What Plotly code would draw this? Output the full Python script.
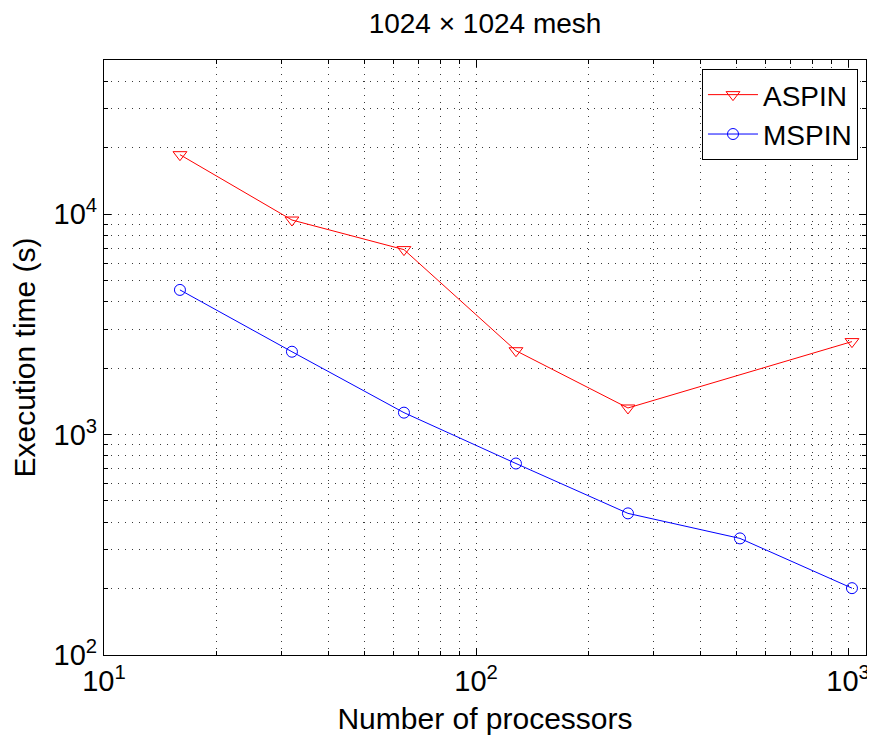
import plotly.graph_objs as go

# number of processors
procs_aspin = [16, 32, 64, 128, 256, 1024]
procs_mspin = [16, 32, 64, 128, 256, 512, 1024]

# execution time (s)
time_aspin = [18600, 9400, 6900, 2400, 1320, 2640]
time_mspin = [4530, 2375, 1257, 739, 439, 338, 201]

# decade tick labels
x_ticks = [10, 100, 1000]
x_labels = ["10<sup>1</sup>", "10<sup>2</sup>", "10<sup>3</sup>"]
y_ticks = [100, 1000, 10000]
y_labels = ["10<sup>2</sup>", "10<sup>3</sup>", "10<sup>4</sup>"]

FONT = "Liberation Sans, Arial, Helvetica, sans-serif"
GRID = "#3a3a3a"

fig = go.Figure()
fig.add_trace(go.Scatter(
    x=procs_aspin, y=time_aspin, name="ASPIN", mode="lines+markers",
    line=dict(color="#ff0000", width=1),
    marker=dict(symbol="triangle-down-open", size=12, color="#ff0000", line=dict(width=1)),
))
fig.add_trace(go.Scatter(
    x=procs_mspin, y=time_mspin, name="MSPIN", mode="lines+markers",
    line=dict(color="#0000ff", width=1),
    marker=dict(symbol="circle-open", size=11, color="#0000ff", line=dict(width=1)),
))

axis_common = dict(
    type="log", automargin=False,
    ticks="inside", ticklen=7, tickcolor="black", tickwidth=1,
    showline=True, linecolor="black", linewidth=1.3, mirror="allticks",
    showgrid=True, gridcolor=GRID, gridwidth=1, griddash="1px,6px",
    zeroline=False,
    tickfont=dict(family=FONT, size=29, color="black"),
    minor=dict(dtick="D1", ticks="inside", ticklen=4, tickcolor="black",
               showgrid=True, gridcolor=GRID, gridwidth=1, griddash="1px,6px"),
)

fig.update_xaxes(axis_common, range=[1, 3.048], tickmode="array", tickvals=x_ticks, ticktext=x_labels,
                 title=dict(text="Number of processors", font=dict(family=FONT, size=30, color="black"), standoff=12))
fig.update_yaxes(axis_common, range=[2, 4.699], tickmode="array", tickvals=y_ticks, ticktext=y_labels,
                 title=dict(text="Execution time (s)", font=dict(family=FONT, size=30, color="black"), standoff=12))

# the page puts the figure 8px in from the top-left corner, so the figure is 8px smaller
fig.update_layout(
    template="none",
    width=867, height=728,
    margin=dict(l=96, r=9, t=52, b=81),
    paper_bgcolor="white", plot_bgcolor="white",
    title=dict(text="1024 × 1024 mesh", x=0.5, xref="paper", xanchor="center", y=1 - 15 / 728, yanchor="middle",
               font=dict(family=FONT, size=28, color="black")),
    legend=dict(x=0.9895, xanchor="right", y=0.985, yanchor="top",
                bgcolor="white", bordercolor="black", borderwidth=1,
                font=dict(family=FONT, size=28, color="black"), itemwidth=50),
    showlegend=True,
)

fig.write_html("out.html")
